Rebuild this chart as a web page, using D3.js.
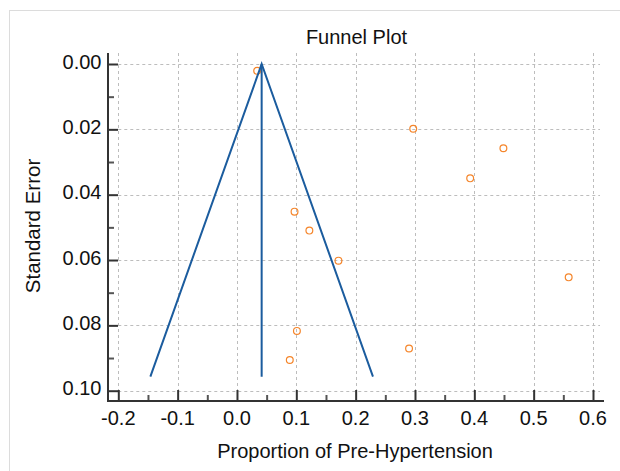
<!DOCTYPE html>
<html><head><meta charset="utf-8">
<script src="https://cdn.jsdelivr.net/npm/d3@7"></script>
<style>
html,body{margin:0;padding:0;background:#fff;}
svg{display:block;font-family:"Liberation Sans",Arial,sans-serif;}
</style></head>
<body>
<svg id="chart" width="620" height="471"></svg>
<script>
// Study estimates (proportion) and their standard errors
const proportion = [0.034, 0.297, 0.449, 0.393, 0.097, 0.122, 0.171, 0.559, 0.101, 0.290, 0.089];
const stdError   = [0.0021, 0.0198, 0.0258, 0.0350, 0.0452, 0.0510, 0.0602, 0.0653, 0.0817, 0.0871, 0.0906];
// Funnel: pooled estimate and the largest standard error shown
const pooled = 0.0416;
const funnelSE = 0.0957;
const z = 1.96;
const xTicks = [-0.2, -0.1, 0.0, 0.1, 0.2, 0.3, 0.4, 0.5, 0.6];
const yTicks = [0.00, 0.02, 0.04, 0.06, 0.08, 0.10];
const xMinor = [-0.15, -0.05, 0.05, 0.15, 0.25, 0.35, 0.45, 0.55];
const yMinor = [0.01, 0.03, 0.05, 0.07, 0.09];

const svg = d3.select("#chart");
// panel border
svg.append("rect").attr("x", 9.5).attr("y", 10.5).attr("width", 640).attr("height", 500)
  .attr("fill", "none").attr("stroke", "#dcdcdc").attr("stroke-width", 1);

const x = d3.scaleLinear().domain([-0.2, 0.6]).range([118.3, 593]);
const y = d3.scaleLinear().domain([0, 0.1]).range([64, 390.7]);
const plotRight = 600, plotTop = 53;
const axX = 108, axY = 401;

// grid
const grid = svg.append("g").attr("stroke", "#bdbdbd").attr("stroke-width", 1).attr("stroke-dasharray", "3,3");
xTicks.forEach(t => {
  grid.append("line").attr("x1", Math.round(x(t)) + 0.5).attr("x2", Math.round(x(t)) + 0.5)
    .attr("y1", plotTop).attr("y2", y(0.1));
});
yTicks.forEach(t => {
  grid.append("line").attr("y1", Math.round(y(t)) + 0.5).attr("y2", Math.round(y(t)) + 0.5)
    .attr("x1", x(-0.2)).attr("x2", plotRight);
});

// axes
const axisCol = "#333";
const xAxis = d3.axisTop(x).tickValues(xTicks).tickSize(11).tickFormat("");
const gx = svg.append("g").attr("transform", `translate(0,${axY})`).call(xAxis);
gx.select(".domain").remove();
gx.selectAll(".tick line").attr("stroke", axisCol).attr("stroke-width", 2);
const gxm = svg.append("g").attr("transform", `translate(0,${axY})`)
  .call(d3.axisTop(x).tickValues(xMinor).tickSize(6).tickFormat(""));
gxm.select(".domain").remove();
gxm.selectAll(".tick line").attr("stroke", "#555").attr("stroke-width", 2);

const yAxis = d3.axisRight(y).tickValues(yTicks).tickSize(10).tickFormat("");
const gy = svg.append("g").attr("transform", `translate(${axX},0)`).call(yAxis);
gy.select(".domain").remove();
gy.selectAll(".tick line").attr("stroke", axisCol).attr("stroke-width", 2);
const gym = svg.append("g").attr("transform", `translate(${axX},0)`)
  .call(d3.axisRight(y).tickValues(yMinor).tickSize(6).tickFormat(""));
gym.select(".domain").remove();
gym.selectAll(".tick line").attr("stroke", "#555").attr("stroke-width", 2);

svg.append("line").attr("x1", axX).attr("x2", axX).attr("y1", plotTop).attr("y2", axY + 1)
  .attr("stroke", axisCol).attr("stroke-width", 2);
svg.append("line").attr("x1", axX - 1).attr("x2", 604).attr("y1", axY).attr("y2", axY)
  .attr("stroke", axisCol).attr("stroke-width", 2);

// tick labels
svg.append("g").selectAll("text").data(xTicks).join("text")
  .attr("x", d => x(d)).attr("y", 425).attr("text-anchor", "middle")
  .attr("font-size", 20).attr("fill", "#111").text(d => d3.format(".1f")(d).replace("−", "-"));
svg.append("g").selectAll("text").data(yTicks).join("text")
  .attr("x", 101.5).attr("y", d => y(d) + 4.5).attr("text-anchor", "end")
  .attr("font-size", 20).attr("fill", "#111").text(d => d3.format(".2f")(d));

// titles
svg.append("text").attr("x", 356.5).attr("y", 44).attr("text-anchor", "middle")
  .attr("font-size", 20).attr("fill", "#111").text("Funnel Plot");
svg.append("text").attr("x", 355).attr("y", 458).attr("text-anchor", "middle")
  .attr("font-size", 20).attr("fill", "#111").text("Proportion of Pre-Hypertension");
svg.append("text").attr("transform", "translate(40,226) rotate(-90)").attr("text-anchor", "middle")
  .attr("font-size", 20.5).attr("fill", "#111").text("Standard Error");

// points
svg.append("g").selectAll("circle").data(proportion).join("circle")
  .attr("cx", d => x(d)).attr("cy", (d, i) => y(stdError[i])).attr("r", 3.4)
  .attr("fill", "none").attr("stroke", "#f5852a").attr("stroke-width", 1.2);

// funnel
const blue = "#1b5c9e";
const funnel = [[pooled - z * funnelSE, funnelSE], [pooled, 0], [pooled + z * funnelSE, funnelSE]];
svg.append("path").attr("d", d3.line().x(d => x(d[0])).y(d => y(d[1]))(funnel))
  .attr("fill", "none").attr("stroke", blue).attr("stroke-width", 2).attr("stroke-linejoin", "miter");
svg.append("line").attr("x1", x(pooled)).attr("x2", x(pooled)).attr("y1", y(0)).attr("y2", y(funnelSE))
  .attr("stroke", blue).attr("stroke-width", 2);
</script>
</body></html>
